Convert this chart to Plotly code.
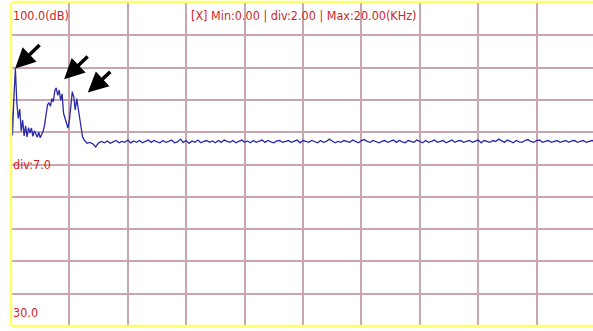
import numpy as np
import plotly.graph_objects as go

# Spectrum: low band sampled every 0.05 kHz, rest every 0.1 kHz
freq_low = np.round(np.arange(0, 2.5001, 0.05), 2)
level_low = [
    81.1, 71.3, 79.5, 85.8, 78.4, 75.0, 77.0, 72.2, 74.6, 71.2,
    73.4, 71.0, 73.0, 71.8, 72.9, 71.1, 72.3, 71.5, 70.9, 72.0,
    70.8, 71.5, 72.2, 73.6, 76.0, 77.9, 78.4, 77.6, 79.3, 78.6,
    81.0, 81.6, 80.0, 81.1, 78.9, 80.3, 76.1, 75.0, 74.0, 72.9,
    74.6, 77.5, 80.8, 79.6, 76.8, 79.3, 77.0, 74.5, 72.6, 71.0,
    70.4,
]
freq_high = np.round(np.arange(2.6, 20.0001, 0.1), 2)
level_high = [
    69.6, 69.8, 69.5, 68.8, 69.7, 70.0, 69.7, 70.1, 69.6, 69.9,
    70.2, 69.7, 70.0, 69.8, 70.3, 69.7, 70.1, 69.8, 70.2, 69.7,
    70.0, 70.3, 69.8, 70.2, 69.9, 69.7, 70.2, 69.8, 70.0, 70.3,
    69.7, 69.9, 70.5, 69.8, 70.2, 69.6, 70.1, 69.8, 70.3, 69.7,
    70.0, 70.2, 69.8, 70.1, 69.7, 70.2, 69.8, 70.3, 70.0, 69.8,
    70.2, 69.7, 70.0, 70.3, 69.8, 70.1, 69.7, 70.2, 69.8, 70.0,
    70.3, 69.8, 70.2, 69.9, 69.7, 70.1, 70.2, 69.8, 70.0, 70.2,
    69.8, 70.0, 70.3, 69.7, 70.2, 70.0, 69.8, 70.2, 69.9, 69.7,
    70.2, 69.8, 70.0, 70.5, 70.1, 69.7, 70.0, 69.8, 70.2, 70.0,
    69.8, 70.3, 70.0, 69.7, 70.2, 70.4, 70.0, 69.8, 70.2, 69.9,
    69.7, 70.0, 70.2, 69.8, 70.1, 70.3, 69.8, 70.2, 69.9, 69.7,
    70.2, 70.0, 69.8, 70.3, 70.0, 69.7, 70.2, 69.8, 70.0, 70.3,
    69.8, 70.0, 70.2, 69.7, 70.0, 70.3, 69.8, 70.1, 70.2, 69.8,
    70.0, 70.2, 69.8, 70.0, 70.3, 69.7, 70.2, 70.0, 69.8, 70.2,
    70.0, 70.5, 70.1, 69.8, 70.3, 70.0, 69.7, 70.2, 69.9, 69.8,
    70.2, 70.4, 70.0, 69.8, 70.2, 70.3, 69.8, 70.0, 70.2, 69.8,
    70.0, 70.2, 69.8, 70.0, 70.2, 69.8, 70.1, 70.2, 69.8, 70.0,
    70.2, 69.8, 70.0, 70.2, 70.0,
]
freq = list(freq_low) + list(freq_high)
level = level_low + level_high

# Axis settings (kHz / dB)
x_min, x_div, x_max = 0.0, 2.0, 20.0
y_min, y_div, y_max = 30.0, 7.0, 100.0

# Arrow tips (kHz, dB) and tail offsets (px) marking the low-band peaks
arrow_freq = [0.14, 1.82, 2.63]
arrow_level = [85.8, 83.5, 80.6]
arrow_dx = [26, 25, 24]
arrow_dy = [-25, -24, -22]

W, H = 593, 331
ML, MR, MT, MB = 11, 0, 3, 5
plot_w = W - ML - MR
# The right edge of the scope grid sits just past the window
x_view = x_max * plot_w / 584.0

RED = "#d21f1f"
GRID = "#c9a6ae"
YELLOW = "#ffff66"
FONT = "Liberation Sans Narrow, DejaVu Sans Condensed, Arial Narrow, sans-serif"

fig = go.Figure()
fig.add_trace(go.Scatter(
    x=freq, y=level, mode="lines",
    line=dict(color="#2a2aaa", width=1.3),
    hoverinfo="skip", showlegend=False,
))

fig.update_xaxes(
    range=[x_min, x_view], dtick=x_div, tick0=x_min,
    showgrid=True, gridcolor=GRID, gridwidth=1.5,
    showticklabels=False, zeroline=False, showline=False, ticks="",
)
fig.update_yaxes(
    range=[y_min, y_max], dtick=y_div, tick0=y_min,
    showgrid=True, gridcolor=GRID, gridwidth=1.5,
    showticklabels=False, zeroline=False, showline=False, ticks="",
)

# Yellow frame: top, left, bottom
frame = dict(type="line", xref="paper", yref="paper", layer="above",
             line=dict(color=YELLOW, width=2.5))
fig.add_shape(x0=0, x1=1, y0=1.003, y1=1.003, **frame)
fig.add_shape(x0=0, x1=0, y0=0, y1=1, **frame)
fig.add_shape(x0=0, x1=1, y0=0.0, y1=0.0, **frame)

txt = dict(xref="paper", yref="paper", showarrow=False,
           font=dict(family=FONT, size=12.5, color=RED))
fig.add_annotation(x=0.0, y=0.96, xanchor="left", yanchor="middle",
                   text=f"{y_max:.1f}(dB)", **txt)
fig.add_annotation(x=0.502, y=0.96, xanchor="center", yanchor="middle",
                   text=f"[X] Min:{x_min:.2f} | div:{x_div:.2f} | Max:{x_max:.2f}(KHz)",
                   **txt)
fig.add_annotation(x=0.0, y=0.499, xanchor="left", yanchor="middle",
                   text=f"div:{y_div:.1f}", **txt)
fig.add_annotation(x=0.0, y=0.041, xanchor="left", yanchor="middle",
                   text=f"{y_min:.1f}", **txt)

for f, v, dx, dy in zip(arrow_freq, arrow_level, arrow_dx, arrow_dy):
    fig.add_annotation(
        x=f, y=v, xref="x", yref="y", text="",
        showarrow=True, arrowhead=2, arrowsize=1.15, arrowwidth=3.5,
        arrowcolor="black", ax=dx, ay=dy, standoff=0,
    )

fig.update_layout(
    width=W, height=H,
    margin=dict(l=ML, r=MR, t=MT, b=MB, pad=0),
    paper_bgcolor="white", plot_bgcolor="white",
    showlegend=False,
)

fig.write_html("out.html", include_plotlyjs=True, config={"displayModeBar": False})
